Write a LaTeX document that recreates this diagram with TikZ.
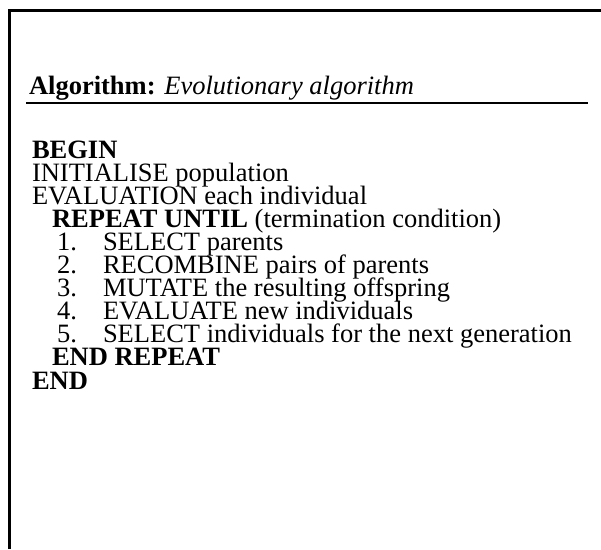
\documentclass[tikz,border=0pt]{standalone}
\usepackage{fontspec}
\setmainfont{Liberation Serif}
\begin{document}
\begin{tikzpicture}[x=1pt,y=-1pt,
  txt/.style={anchor=base west,inner sep=0pt,outer sep=0pt,text height=17pt,text depth=5pt,font=\fontsize{26.5}{28}\selectfont},
  rule/.style={line width=2.2pt}]
\useasboundingbox (0,0) rectangle (601,549);
\coordinate (tl) at (9.5,10.5);
\coordinate (tr) at (601,10.5);
\coordinate (bl) at (9.5,549);
\draw[rule] (bl) -- (tl) -- (tr);
\node[txt] (title) at (29,94) {\textbf{Algorithm:} \textit{Evolutionary algorithm}};
\coordinate (ul) at (26,103);
\coordinate (ur) at (588,103);
\draw[rule] (ul) -- (ur);
\node[txt] (begin) at (32,158) {\textbf{BEGIN}};
\node[txt] (init) at (32,181.1) {INITIALISE population};
\node[txt] (eval) at (32,204.2) {EVALUATION each individual};
\node[txt] (rep) at (52,227.3) {\textbf{REPEAT UNTIL} (termination condition)};
\node[txt] (n1) at (57,250.4) {1.};
\node[txt] (s1) at (103,250.4) {SELECT parents};
\node[txt] (n2) at (57,273.5) {2.};
\node[txt] (s2) at (103,273.5) {RECOMBINE pairs of parents};
\node[txt] (n3) at (57,296.6) {3.};
\node[txt] (s3) at (103,296.6) {MUTATE the resulting offspring};
\node[txt] (n4) at (57,319.7) {4.};
\node[txt] (s4) at (103,319.7) {EVALUATE new individuals};
\node[txt] (n5) at (57,342.8) {5.};
\node[txt] (s5) at (103,342.8) {SELECT individuals for the next generation};
\node[txt] (endrep) at (52,365.9) {\textbf{END REPEAT}};
\node[txt] (end) at (32,389) {\textbf{END}};
\end{tikzpicture}
\end{document}
